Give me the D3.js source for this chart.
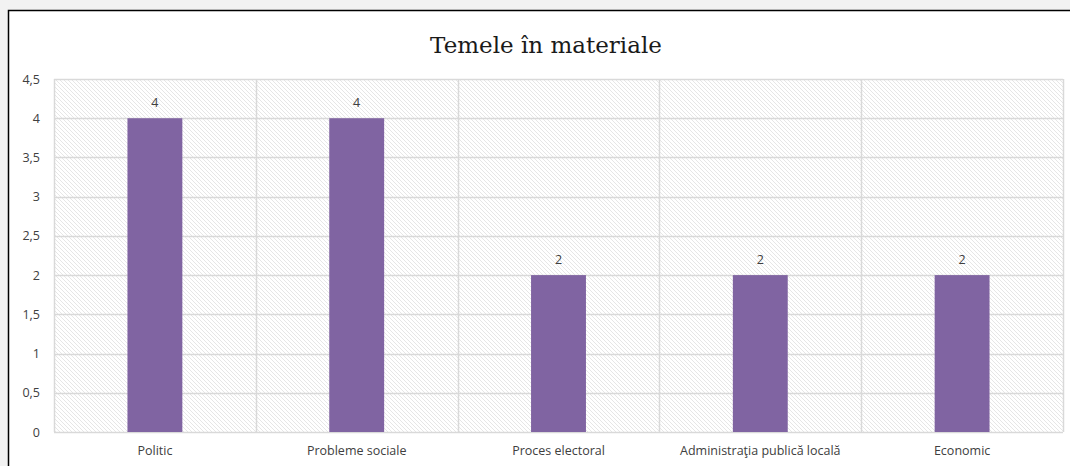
<!DOCTYPE html>
<html>
<head>
<meta charset="utf-8">
<script src="https://cdn.jsdelivr.net/npm/d3@7"></script>
<style>
  body { margin: 0; background: #f2f2f2; }
  svg { display: block; }
</style>
</head>
<body>
<script>
'use strict';

let categories = ["Politic", "Probleme sociale", "Proces electoral", "Administraţia publică locală", "Economic"];
let values = [4, 4, 2, 2, 2];
let yTicks = [0, 0.5, 1, 1.5, 2, 2.5, 3, 3.5, 4, 4.5];
let title = "Temele în materiale";

let width = 1070, height = 466;
let svg = d3.select("body").append("svg")
  .attr("width", width)
  .attr("height", height);

// hatch pattern for plot area
let defs = svg.append("defs");
let pat = defs.append("pattern")
  .attr("id", "hatch")
  .attr("patternUnits", "userSpaceOnUse")
  .attr("width", 4)
  .attr("height", 4);
pat.append("rect").attr("width", 4).attr("height", 4).attr("fill", "#ffffff");
pat.append("path")
  .attr("d", "M-1,-1 L5,5 M-1,3 L1,5 M3,-1 L5,1")
  .attr("stroke", "#e6e6e6")
  .attr("stroke-width", 1);

// chart frame
svg.append("rect")
  .attr("x", 8.5).attr("y", 10.5)
  .attr("width", width).attr("height", height)
  .attr("fill", "#ffffff")
  .attr("stroke", "#000")
  .attr("stroke-width", 1.5);

let plot = { left: 54, right: 1063, top: 79, bottom: 432 };

let x = d3.scaleBand()
  .domain(categories)
  .range([plot.left, plot.right])
  .paddingInner(0)
  .paddingOuter(0);

let y = d3.scaleLinear()
  .domain([0, 4.5])
  .range([plot.bottom, plot.top]);

// plot background
svg.append("rect")
  .attr("x", plot.left).attr("y", plot.top)
  .attr("width", plot.right - plot.left)
  .attr("height", plot.bottom - plot.top)
  .attr("fill", "url(#hatch)");

// horizontal grid
svg.append("g")
  .selectAll("line")
  .data(yTicks)
  .enter()
  .append("line")
  .attr("x1", plot.left).attr("x2", plot.right)
  .attr("y1", (d) => Math.round(y(d)) + 0.5)
  .attr("y2", (d) => Math.round(y(d)) + 0.5)
  .attr("stroke", "#d9d9d9")
  .attr("stroke-width", 1.5);

// vertical grid at category boundaries
let bounds = categories.map((c) => x(c)).concat([plot.right]);
svg.append("g")
  .selectAll("line")
  .data(bounds)
  .enter()
  .append("line")
  .attr("x1", (d) => Math.round(d) + 0.5).attr("x2", (d) => Math.round(d) + 0.5)
  .attr("y1", plot.top).attr("y2", plot.bottom)
  .attr("stroke", "#d9d9d9")
  .attr("stroke-width", 1.5);

// y axis labels
let yAxis = d3.axisLeft(y)
  .tickValues(yTicks)
  .tickSize(0)
  .tickPadding(14)
  .tickFormat((d) => String(d).replace(".", ","));
let gy = svg.append("g")
  .attr("transform", "translate(" + plot.left + ",0)")
  .call(yAxis);
gy.select(".domain").remove();
gy.selectAll("text")
  .style("font-family", "'Open Sans', 'Liberation Sans', sans-serif")
  .style("font-size", "12.5px")
  .attr("fill", "#404040");

// x axis labels
let xAxis = d3.axisBottom(x).tickSize(0).tickPadding(14);
let gx = svg.append("g")
  .attr("transform", "translate(0," + plot.bottom + ")")
  .call(xAxis);
gx.select(".domain").remove();
gx.selectAll("text")
  .style("font-family", "'Open Sans', 'Liberation Sans', sans-serif")
  .style("font-size", "12.5px")
  .attr("fill", "#404040");

// bars
let barW = x.bandwidth() * 0.272;
svg.selectAll(".bar")
  .data(values)
  .enter()
  .append("rect")
  .attr("class", "bar")
  .attr("x", (d, i) => x(categories[i]) + x.bandwidth() / 2 - barW / 2)
  .attr("y", (d) => y(d))
  .attr("width", barW)
  .attr("height", (d) => y(0) - y(d))
  .attr("fill", "#8064a2");

// value labels
svg.selectAll(".val")
  .data(values)
  .enter()
  .append("text")
  .attr("class", "val")
  .attr("x", (d, i) => x(categories[i]) + x.bandwidth() / 2)
  .attr("y", (d) => y(d) - 11)
  .attr("text-anchor", "middle")
  .style("font-family", "'Open Sans', 'Liberation Sans', sans-serif")
  .style("font-size", "12.5px")
  .attr("fill", "#404040")
  .text((d) => d);

// title
svg.append("text")
  .attr("x", 546)
  .attr("y", 53)
  .attr("text-anchor", "middle")
  .style("font-family", "'DejaVu Serif', 'Liberation Serif', serif")
  .style("font-size", "23px")
  .attr("fill", "#1a1a1a")
  .text(title);
</script>
</body>
</html>
